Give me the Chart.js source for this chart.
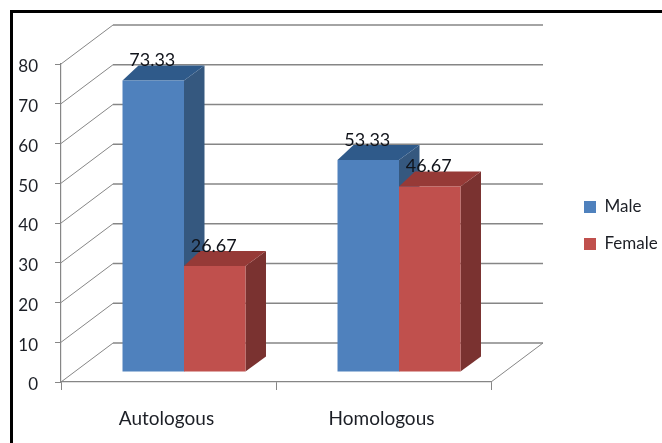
<!DOCTYPE html>
<html>
<head>
<meta charset="utf-8">
<title>Autologous vs Homologous</title>
<script src="https://cdn.jsdelivr.net/npm/chart.js@4"></script>
<style>
    html, body { margin: 0; padding: 0; background: #fff; overflow: hidden; }
    #wrap { position: relative; width: 662px; height: 443px; }
    #frame { position: absolute; left: 10px; top: 10px; right: 0; bottom: 0; border-top: 3px solid #000; border-left: 3px solid #000; }
    #barChart { position: absolute; left: 0; top: 0; display: block; }
</style>
</head>
<body>
<div id="wrap">
    <div id="frame"></div>
    <canvas id="barChart" width="662" height="443"></canvas>
</div>
<script>
    const categories = ['Autologous', 'Homologous'];
    const maleValues = [73.33, 53.33];
    const femaleValues = [26.67, 46.67];
    const yTicks = [0, 10, 20, 30, 40, 50, 60, 70, 80];

    const axisGrey = '#868686';
    const textColor = '#1c1f26';
    const fontFamily = 'Lato, "Open Sans", sans-serif';

    // depth of the box behind the plot, and of each bar
    const wallDx = 52, wallDy = -39;
    const barShiftX = 15.5, barShiftY = -10;
    const faces = [
        { side: '#35587f', top: '#2f5a8a' },
        { side: '#7a3230', top: '#963a37' }
    ];

    function fillShape(ctx, color, pts) {
        ctx.fillStyle = color;
        ctx.beginPath();
        pts.forEach((p, i) => i ? ctx.lineTo(p[0], p[1]) : ctx.moveTo(p[0], p[1]));
        ctx.closePath();
        ctx.fill();
    }

    /* 3D look: back wall, floor, bar side and top faces, value labels */
    const box3d = {
        id: 'box3d',
        afterLayout(chart) {
            // legend sits well to the right of the plot
            const legend = chart.legend;
            legend.left = 564;
            legend.right = 662;
            legend.top -= 28;
            legend.bottom -= 28;
        },
        beforeDatasetsDraw(chart) {
            const ctx = chart.ctx;
            const { left, right } = chart.chartArea;
            const y = chart.scales.y;

            ctx.save();
            ctx.strokeStyle = axisGrey;
            yTicks.forEach(t => {
                const py = y.getPixelForValue(t);
                ctx.lineWidth = 1;
                ctx.beginPath();
                ctx.moveTo(left, py);
                ctx.lineTo(left + wallDx, py + wallDy);
                ctx.stroke();
                ctx.lineWidth = 1.5;
                ctx.beginPath();
                ctx.moveTo(left + wallDx, py + wallDy);
                ctx.lineTo(right + wallDx, py + wallDy);
                ctx.stroke();
            });
            // right edge of the floor
            const py0 = y.getPixelForValue(0);
            ctx.lineWidth = 1;
            ctx.beginPath();
            ctx.moveTo(right, py0);
            ctx.lineTo(right + wallDx, py0 + wallDy);
            ctx.stroke();

            ctx.translate(barShiftX, barShiftY);
            chart.data.datasets.forEach((ds, d) => {
                chart.getDatasetMeta(d).data.forEach(bar => {
                    const xl = bar.x - bar.width / 2, xr = bar.x + bar.width / 2;
                    fillShape(ctx, faces[d].side, [
                        [xr, bar.y], [xr + 20.5, bar.y - 15], [xr + 20.5, bar.base - 15], [xr, bar.base]
                    ]);
                    fillShape(ctx, faces[d].top, [
                        [xl, bar.y], [xl + 16, bar.y - 15], [xr + 20.5, bar.y - 15], [xr, bar.y]
                    ]);
                });
            });
            ctx.restore();

            ctx.save();
            ctx.translate(barShiftX, barShiftY);
        },
        afterDatasetsDraw(chart) {
            const ctx = chart.ctx;
            ctx.restore();

            ctx.save();
            ctx.font = '18px ' + fontFamily;
            ctx.fillStyle = '#10131a';
            ctx.textAlign = 'center';
            ctx.textBaseline = 'middle';
            chart.data.datasets.forEach((ds, d) => {
                chart.getDatasetMeta(d).data.forEach((bar, i) => {
                    ctx.fillText(ds.data[i].toFixed(2), bar.x + barShiftX - 1, bar.y + barShiftY - 20);
                });
            });
            ctx.restore();
        }
    };

    new Chart(document.getElementById('barChart'), {
        type: 'bar',
        data: {
            labels: categories,
            datasets: [
                { label: 'Male', data: maleValues, backgroundColor: '#4f81bd', borderWidth: 0 },
                { label: 'Female', data: femaleValues, backgroundColor: '#c0504d', borderWidth: 0 }
            ]
        },
        options: {
            responsive: false,
            animation: false,
            layout: { padding: { top: 64, right: 81, left: 0, bottom: 0 } },
            datasets: { bar: { categoryPercentage: 0.572, barPercentage: 1 } },
            scales: {
                x: {
                    afterFit: s => { s.height = 61; },
                    grid: { offset: true, drawOnChartArea: false, color: axisGrey, tickLength: 8 },
                    border: { color: axisGrey, width: 1.2 },
                    ticks: { color: textColor, font: { size: 19, family: fontFamily }, padding: 17, maxRotation: 0, labelOffset: -2 }
                },
                y: {
                    min: 0,
                    max: 80,
                    afterFit: s => { s.width = 61; },
                    grid: { drawOnChartArea: false, color: axisGrey, tickLength: 6 },
                    border: { color: axisGrey, width: 1.2 },
                    ticks: { stepSize: 10, color: textColor, font: { size: 17, family: fontFamily }, padding: 17, labelOffset: 3 }
                }
            },
            plugins: {
                tooltip: { enabled: false },
                legend: {
                    position: 'right',
                    maxWidth: 90,
                    labels: { boxWidth: 12, boxHeight: 12, padding: 20, color: textColor, font: { size: 17, family: fontFamily } }
                }
            }
        },
        plugins: [box3d]
    });
</script>
</body>
</html>
